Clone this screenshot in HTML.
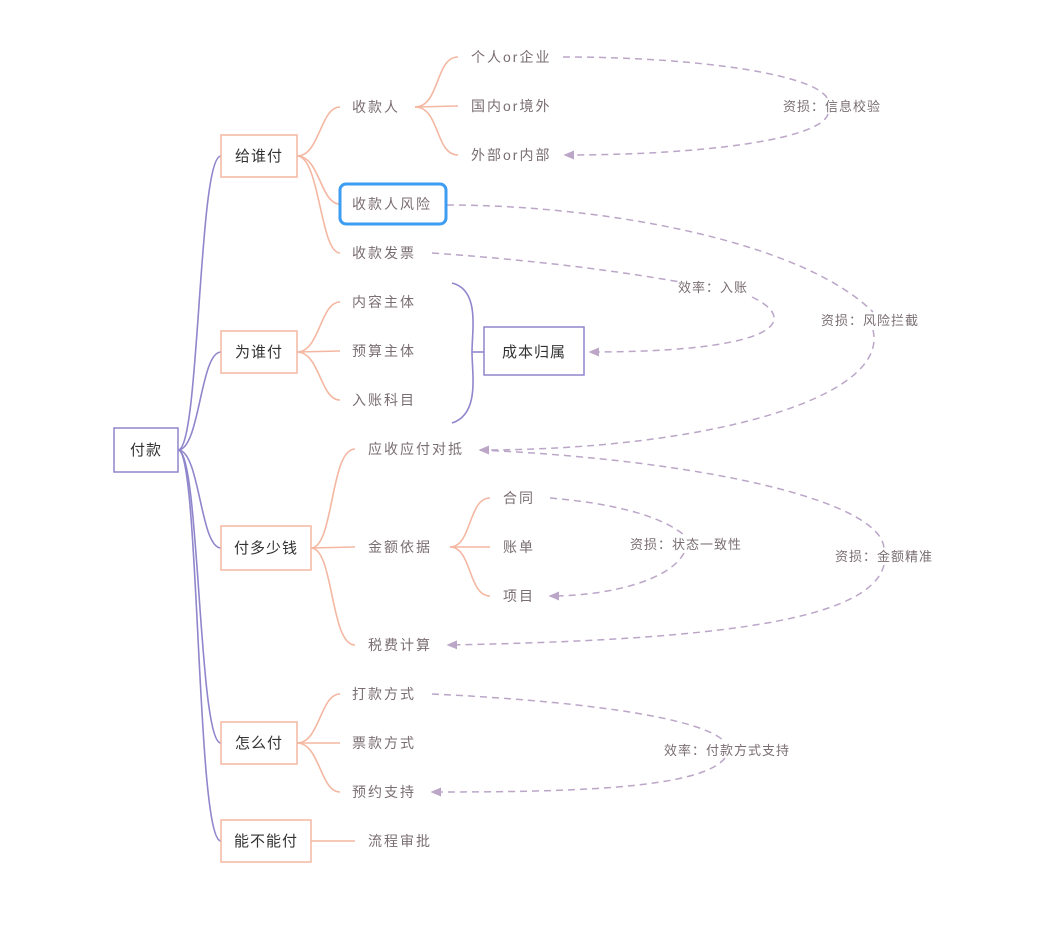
<!DOCTYPE html>
<html><head><meta charset="utf-8"><style>
html,body{margin:0;padding:0;background:#fff;}
svg{display:block;font-family:"Liberation Sans","Noto Sans CJK SC",sans-serif;}
.t{font-size:14px;fill:#7a6e72;letter-spacing:2px;}
.b{font-size:15px;fill:#333;letter-spacing:1px;}
.p{fill:none;stroke:#8f86cc;stroke-width:1.6;}
.s{fill:none;stroke:#f4b7a2;stroke-width:1.6;}
.d{fill:none;stroke:#bba6c8;stroke-width:1.5;stroke-dasharray:7 5;}
.bx{fill:#fff;stroke:#f4b7a2;stroke-width:1.5;}
</style></head><body>
<svg width="1047" height="935" viewBox="0 0 1047 935" xmlns="http://www.w3.org/2000/svg">
<defs><marker id="a" markerWidth="8" markerHeight="8" refX="6" refY="4" orient="auto"><path d="M0,1 L7,4 L0,7 Z" fill="#bba6c8"/></marker></defs>
<path class="p" d="M178,450 C200,450 198,156 221,156"/>
<path class="p" d="M178,450 C200,450 200,352 221,352"/>
<path class="p" d="M178,450 C200,450 200,548 221,548"/>
<path class="p" d="M178,450 C200,450 198,743 221,743"/>
<path class="p" d="M178,450 C200,450 196,841 221,841"/>
<path class="s" d="M297,156 C320,156 320,107 340,107"/>
<path class="s" d="M297,156 C320,156 320,204 340,204"/>
<path class="s" d="M297,156 C320,156 320,253 340,253"/>
<path class="s" d="M415,107 C440,107 435,57 458,57"/>
<path class="s" d="M415,107 L458,106"/>
<path class="s" d="M415,107 C440,107 435,155 458,155"/>
<path class="s" d="M297,352 C320,352 320,302 340,302"/>
<path class="s" d="M297,352 L340,351"/>
<path class="s" d="M297,352 C320,352 320,400 340,400"/>
<path class="s" d="M311,548 C334,548 330,449 355,449"/>
<path class="s" d="M311,548 L355,547"/>
<path class="s" d="M311,548 C334,548 330,645 355,645"/>
<path class="s" d="M450,547 C472,547 468,498 490,498"/>
<path class="s" d="M450,547 L490,547"/>
<path class="s" d="M450,547 C472,547 468,596 490,596"/>
<path class="s" d="M297,743 C320,743 320,694 340,694"/>
<path class="s" d="M297,743 L340,743"/>
<path class="s" d="M297,743 C320,743 320,792 340,792"/>
<path class="s" d="M311,841 L355,841"/>
<path class="p" d="M452,283 C480,290 472,330 472,352 C472,374 480,414 452,423"/>
<path class="p" d="M472,352 L484,352"/>
<path class="d" d="M563,57 C700,57 820,75 828,100 M828,114 C820,140 700,155 565,155" marker-end="url(#a)"/>
<path class="d" d="M447,205 C600,205 800,240 873,312 M873,330 C890,400 700,450 480,450" marker-end="url(#a)"/>
<path class="d" d="M432,253 C560,262 640,275 680,282 M752,297 C800,320 780,352 590,352" marker-end="url(#a)"/>
<path class="d" d="M550,498 C610,503 660,515 684,535 M684,553 C670,580 610,596 550,596" marker-end="url(#a)"/>
<path class="d" d="M480,450 C700,460 880,500 884,548 M884,565 C870,620 720,640 448,645" marker-end="url(#a)"/>
<path class="d" d="M432,694 C560,700 700,715 725,742 M725,758 C700,790 560,792 432,792" marker-end="url(#a)"/>
<rect x="114" y="428" width="64" height="44" fill="#fff" stroke="#8f86cc" stroke-width="1.5"/>
<text class="b" x="146" y="455" text-anchor="middle">付款</text>
<rect class="bx" x="221" y="135" width="76" height="42"/><text class="b" x="259" y="161" text-anchor="middle">给谁付</text>
<rect class="bx" x="221" y="331" width="76" height="42"/><text class="b" x="259" y="357" text-anchor="middle">为谁付</text>
<rect class="bx" x="221" y="526" width="90" height="44"/><text class="b" x="266" y="553" text-anchor="middle">付多少钱</text>
<rect class="bx" x="221" y="722" width="76" height="42"/><text class="b" x="259" y="748" text-anchor="middle">怎么付</text>
<rect class="bx" x="221" y="820" width="90" height="42"/><text class="b" x="266" y="846" text-anchor="middle">能不能付</text>
<rect x="340" y="184" width="106" height="40" rx="6" fill="#fff" stroke="#3d9df2" stroke-width="3"/>
<rect x="484" y="327" width="100" height="48" fill="#fff" stroke="#8f86cc" stroke-width="1.5"/>
<text class="b" x="534" y="357" text-anchor="middle">成本归属</text>
<text class="t" x="352" y="112">收款人</text>
<text class="t" x="352" y="209">收款人风险</text>
<text class="t" x="352" y="258">收款发票</text>
<text class="t" x="471" y="62">个人or企业</text>
<text class="t" x="471" y="111">国内or境外</text>
<text class="t" x="471" y="160">外部or内部</text>
<text class="t" x="352" y="307">内容主体</text>
<text class="t" x="352" y="356">预算主体</text>
<text class="t" x="352" y="405">入账科目</text>
<text class="t" x="368" y="454">应收应付对抵</text>
<text class="t" x="368" y="552">金额依据</text>
<text class="t" x="368" y="650">税费计算</text>
<text class="t" x="503" y="503">合同</text>
<text class="t" x="503" y="552">账单</text>
<text class="t" x="503" y="601">项目</text>
<text class="t" x="352" y="699">打款方式</text>
<text class="t" x="352" y="748">票款方式</text>
<text class="t" x="352" y="797">预约支持</text>
<text class="t" x="368" y="846">流程审批</text>
<g style="font-size:13px;letter-spacing:1px" fill="#7a6e72">
<text x="832" y="111" text-anchor="middle">资损：信息校验</text>
<text x="870" y="325" text-anchor="middle">资损：风险拦截</text>
<text x="713" y="292" text-anchor="middle">效率：入账</text>
<text x="686" y="549" text-anchor="middle">资损：状态一致性</text>
<text x="884" y="561" text-anchor="middle">资损：金额精准</text>
<text x="727" y="755" text-anchor="middle">效率：付款方式支持</text>
</g>
</svg>
</body></html>
